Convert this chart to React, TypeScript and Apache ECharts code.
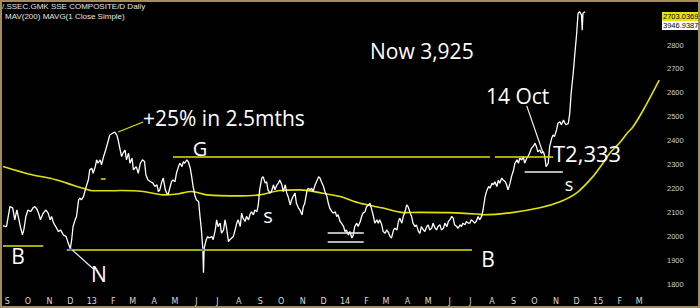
import React, { useEffect, useRef } from "react";
import * as echarts from "echarts";

const START_DATE = "2012-08-26";
const END_DATE = "2015-04-03";

const priceSeries: [string, number][] = [
  ["2012-08-26", 2046], ["2012-08-31", 2043], ["2012-09-05", 2126], ["2012-09-09", 2121], ["2012-09-12", 2071],
  ["2012-09-15", 2112], ["2012-09-17", 2085], ["2012-09-20", 2043], ["2012-09-23", 2008], ["2012-09-25", 2029],
  ["2012-09-28", 2085], ["2012-10-01", 2112], ["2012-10-05", 2105], ["2012-10-08", 2120], ["2012-10-11", 2126],
  ["2012-10-14", 2115], ["2012-10-17", 2092], ["2012-10-19", 2071], ["2012-10-23", 2099], ["2012-10-27", 2112],
  ["2012-10-30", 2099], ["2012-11-02", 2071], ["2012-11-04", 2085], ["2012-11-07", 2057], ["2012-11-10", 2043],
  ["2012-11-14", 2022], ["2012-11-17", 2029], ["2012-11-21", 2008], ["2012-11-25", 2001], ["2012-11-28", 1974],
  ["2012-12-01", 1950], ["2012-12-03", 1988], ["2012-12-05", 2043], ["2012-12-08", 2071], ["2012-12-10", 2085],
  ["2012-12-13", 2154], ["2012-12-15", 2161], ["2012-12-17", 2154], ["2012-12-20", 2168], ["2012-12-22", 2189],
  ["2012-12-24", 2210], ["2012-12-27", 2237], ["2012-12-29", 2279], ["2013-01-01", 2286], ["2013-01-03", 2265],
  ["2013-01-06", 2293], ["2013-01-08", 2321], ["2013-01-10", 2307], ["2013-01-13", 2321], ["2013-01-15", 2300],
  ["2013-01-18", 2335], ["2013-01-21", 2362], ["2013-01-25", 2404], ["2013-01-27", 2425], ["2013-01-31", 2432],
  ["2013-02-03", 2437], ["2013-02-06", 2425], ["2013-02-08", 2404], ["2013-02-11", 2362], ["2013-02-13", 2335],
  ["2013-02-15", 2349], ["2013-02-18", 2362], ["2013-02-20", 2321], ["2013-02-23", 2349], ["2013-02-25", 2307],
  ["2013-02-28", 2328], ["2013-03-02", 2279], ["2013-03-06", 2293], ["2013-03-09", 2265], ["2013-03-12", 2307],
  ["2013-03-15", 2321], ["2013-03-18", 2314], ["2013-03-20", 2258], ["2013-03-23", 2237], ["2013-03-27", 2230],
  ["2013-03-30", 2224], ["2013-04-02", 2210], ["2013-04-05", 2217], ["2013-04-07", 2189], ["2013-04-09", 2196],
  ["2013-04-12", 2230], ["2013-04-14", 2245], ["2013-04-17", 2196], ["2013-04-19", 2182], ["2013-04-21", 2175],
  ["2013-04-24", 2210], ["2013-04-26", 2230], ["2013-04-28", 2237], ["2013-05-01", 2230], ["2013-05-03", 2265],
  ["2013-05-06", 2293], ["2013-05-08", 2307], ["2013-05-11", 2293], ["2013-05-13", 2314], ["2013-05-15", 2307],
  ["2013-05-18", 2321], ["2013-05-20", 2314], ["2013-05-23", 2286], ["2013-05-25", 2251], ["2013-05-27", 2210],
  ["2013-05-30", 2168], ["2013-06-01", 2154], ["2013-06-04", 2147], ["2013-06-06", 2085], ["2013-06-08", 2029],
  ["2013-06-10", 1953], ["2013-06-11", 1850], ["2013-06-12", 1953], ["2013-06-15", 1988], ["2013-06-17", 2001],
  ["2013-06-19", 1995], ["2013-06-23", 2001], ["2013-06-25", 1988], ["2013-06-28", 2029], ["2013-06-30", 2071],
  ["2013-07-02", 2043], ["2013-07-05", 2057], ["2013-07-07", 2015], ["2013-07-10", 2029], ["2013-07-12", 2071],
  ["2013-07-14", 2043], ["2013-07-17", 1980], ["2013-07-19", 1988], ["2013-07-24", 2001], ["2013-07-26", 2022],
  ["2013-07-29", 2057], ["2013-07-31", 2071], ["2013-08-03", 2043], ["2013-08-05", 2099], ["2013-08-07", 2078],
  ["2013-08-10", 2064], ["2013-08-12", 2085], ["2013-08-15", 2071], ["2013-08-17", 2092], ["2013-08-19", 2105],
  ["2013-08-22", 2092], ["2013-08-24", 2112], ["2013-08-27", 2105], ["2013-08-29", 2133], ["2013-08-31", 2196],
  ["2013-09-03", 2245], ["2013-09-05", 2251], ["2013-09-08", 2224], ["2013-09-10", 2230], ["2013-09-12", 2196],
  ["2013-09-15", 2182], ["2013-09-17", 2189], ["2013-09-20", 2217], ["2013-09-22", 2196], ["2013-09-25", 2217],
  ["2013-09-27", 2224], ["2013-09-29", 2237], ["2013-10-02", 2217], ["2013-10-04", 2189], ["2013-10-07", 2217],
  ["2013-10-09", 2182], ["2013-10-11", 2168], ["2013-10-14", 2133], ["2013-10-16", 2154], ["2013-10-18", 2168],
  ["2013-10-21", 2182], ["2013-10-23", 2140], ["2013-10-26", 2120], ["2013-10-28", 2112], ["2013-10-31", 2092],
  ["2013-11-02", 2126], ["2013-11-04", 2140], ["2013-11-07", 2189], ["2013-11-09", 2203], ["2013-11-12", 2196],
  ["2013-11-14", 2203], ["2013-11-16", 2189], ["2013-11-19", 2217], ["2013-11-21", 2230], ["2013-11-24", 2251],
  ["2013-11-26", 2245], ["2013-11-28", 2230], ["2013-12-01", 2210], ["2013-12-03", 2189], ["2013-12-06", 2168],
  ["2013-12-08", 2140], ["2013-12-10", 2120], ["2013-12-13", 2105], ["2013-12-15", 2099], ["2013-12-18", 2105],
  ["2013-12-20", 2085], ["2013-12-22", 2092], ["2013-12-25", 2064], ["2013-12-27", 2057], ["2013-12-30", 2043],
  ["2014-01-01", 2022], ["2014-01-03", 2029], ["2014-01-06", 2008], ["2014-01-08", 2022], ["2014-01-11", 1995],
  ["2014-01-13", 2008], ["2014-01-15", 2043], ["2014-01-18", 2057], ["2014-01-20", 2043], ["2014-01-23", 2064],
  ["2014-01-25", 2085], ["2014-01-27", 2099], ["2014-01-30", 2105], ["2014-02-01", 2126], ["2014-02-04", 2133],
  ["2014-02-06", 2140], ["2014-02-08", 2120], ["2014-02-11", 2085], ["2014-02-13", 2057], ["2014-02-16", 2071],
  ["2014-02-18", 2057], ["2014-02-20", 2071], ["2014-02-23", 2050], ["2014-02-25", 2022], ["2014-02-28", 2015],
  ["2014-03-02", 2029], ["2014-03-04", 2022], ["2014-03-07", 2001], ["2014-03-09", 1995], ["2014-03-12", 2029],
  ["2014-03-14", 2036], ["2014-03-17", 2029], ["2014-03-19", 2064], ["2014-03-21", 2078], ["2014-03-24", 2057],
  ["2014-03-26", 2085], ["2014-03-28", 2099], ["2014-03-31", 2133], ["2014-04-02", 2126], ["2014-04-05", 2099],
  ["2014-04-07", 2085], ["2014-04-09", 2057], ["2014-04-12", 2043], ["2014-04-14", 2050], ["2014-04-17", 2022],
  ["2014-04-19", 2015], ["2014-04-21", 2043], ["2014-04-24", 2029], ["2014-04-26", 2022], ["2014-04-29", 2043],
  ["2014-05-01", 2050], ["2014-05-03", 2029], ["2014-05-06", 2036], ["2014-05-08", 2057], ["2014-05-11", 2036],
  ["2014-05-13", 2029], ["2014-05-15", 2043], ["2014-05-18", 2050], ["2014-05-20", 2029], ["2014-05-23", 2036],
  ["2014-05-25", 2057], ["2014-05-28", 2043], ["2014-05-30", 2064], ["2014-06-01", 2071], ["2014-06-04", 2085],
  ["2014-06-06", 2078], ["2014-06-08", 2050], ["2014-06-11", 2043], ["2014-06-13", 2036], ["2014-06-16", 2050],
  ["2014-06-18", 2043], ["2014-06-20", 2057], ["2014-06-23", 2050], ["2014-06-25", 2064], ["2014-06-28", 2057],
  ["2014-06-30", 2057], ["2014-07-02", 2071], ["2014-07-05", 2064], ["2014-07-07", 2057], ["2014-07-09", 2064],
  ["2014-07-12", 2085], ["2014-07-14", 2071], ["2014-07-17", 2085], ["2014-07-19", 2112], ["2014-07-22", 2168],
  ["2014-07-24", 2189], ["2014-07-27", 2210], ["2014-07-29", 2203], ["2014-08-01", 2224], ["2014-08-03", 2217],
  ["2014-08-05", 2230], ["2014-08-08", 2210], ["2014-08-10", 2237], ["2014-08-12", 2224], ["2014-08-15", 2245],
  ["2014-08-17", 2237], ["2014-08-20", 2230], ["2014-08-22", 2217], ["2014-08-24", 2196], ["2014-08-27", 2224],
  ["2014-08-29", 2251], ["2014-09-01", 2279], ["2014-09-03", 2307], ["2014-09-06", 2321], ["2014-09-08", 2307],
  ["2014-09-10", 2328], ["2014-09-13", 2321], ["2014-09-15", 2335], ["2014-09-17", 2307], ["2014-09-20", 2328],
  ["2014-09-22", 2335], ["2014-09-24", 2349], ["2014-09-27", 2370], ["2014-09-29", 2376], ["2014-10-02", 2390],
  ["2014-10-04", 2376], ["2014-10-06", 2355], ["2014-10-09", 2362], ["2014-10-11", 2349], ["2014-10-14", 2355],
  ["2014-10-16", 2335], ["2014-10-18", 2293], ["2014-10-21", 2307], ["2014-10-23", 2376], ["2014-10-26", 2411],
  ["2014-10-28", 2425], ["2014-10-30", 2418], ["2014-11-02", 2446], ["2014-11-04", 2474], ["2014-11-07", 2480],
  ["2014-11-09", 2467], ["2014-11-12", 2487], ["2014-11-14", 2474], ["2014-11-16", 2467], ["2014-11-19", 2474],
  ["2014-11-21", 2515], ["2014-11-23", 2599], ["2014-11-26", 2682], ["2014-11-28", 2751], ["2014-12-01", 2849],
  ["2014-12-03", 2932], ["2014-12-05", 2939], ["2014-12-08", 2925], ["2014-12-09", 2862], ["2014-12-10", 2932],
  ["2014-12-13", 2939],
];

const maSeries: [string, number][] = [
  ["2012-08-26", 2293], ["2012-09-20", 2272], ["2012-10-08", 2258], ["2012-11-02", 2244], ["2012-11-26", 2224],
  ["2012-12-19", 2203], ["2013-01-03", 2192], ["2013-01-27", 2192], ["2013-02-11", 2193], ["2013-03-16", 2189],
  ["2013-04-14", 2175], ["2013-05-04", 2179], ["2013-05-25", 2189], ["2013-06-16", 2175], ["2013-08-03", 2171],
  ["2013-08-31", 2175], ["2013-09-29", 2193], ["2013-10-28", 2196], ["2013-11-30", 2182], ["2013-12-25", 2168],
  ["2014-01-23", 2140], ["2014-02-25", 2120], ["2014-03-26", 2101], ["2014-04-19", 2102], ["2014-06-01", 2101],
  ["2014-07-10", 2095], ["2014-07-19", 2092], ["2014-08-27", 2100], ["2014-10-09", 2121], ["2014-11-07", 2146],
  ["2014-12-01", 2183], ["2014-12-24", 2250], ["2015-01-08", 2308], ["2015-01-18", 2350], ["2015-02-01", 2392],
  ["2015-02-12", 2433], ["2015-02-20", 2458], ["2015-03-07", 2529], ["2015-03-30", 2654],
];

const yTickValues = [1800, 1900, 2000, 2100, 2200, 2300, 2400, 2500, 2600, 2700, 2800];
const monthLetters = ["J", "F", "M", "A", "M", "J", "J", "A", "S", "O", "N", "D"];

// horizontal annotation lines: [from, to, level, colour]
const YELLOW = "#e2e200";
const WHITE = "#f2f2f2";
const levelLines: [string, string, number, string][] = [
  ["2012-08-26", "2012-10-23", 1962, YELLOW],
  ["2012-11-26", "2014-07-03", 1946, YELLOW],
  ["2013-04-28", "2014-07-29", 2333, YELLOW],
  ["2014-08-05", "2014-10-28", 2333, YELLOW],
  ["2013-01-14", "2013-01-21", 2242, YELLOW],
  ["2013-12-07", "2014-01-28", 2017, WHITE],
  ["2013-12-07", "2014-01-28", 1979, WHITE],
  ["2014-09-17", "2014-11-11", 2271, WHITE],
];
// pointer lines: [fromDate, fromValue, toDate, toValue, colour]
const pointerLines: [string, number, string, number, string][] = [
  ["2012-12-02", 1950, "2013-01-03", 1867, WHITE],
  ["2013-02-08", 2437, "2013-03-16", 2479, YELLOW],
  ["2014-09-20", 2546, "2014-10-13", 2354, WHITE],
];
const touchPoints: [string, number][] = [
  ["2012-12-02", 1946],
  ["2013-06-10", 1946],
];

function buildDays(start: string, end: string): string[] {
  const out: string[] = [];
  let t = Date.parse(start + "T00:00:00Z");
  const e = Date.parse(end + "T00:00:00Z");
  while (t <= e) {
    out.push(new Date(t).toISOString().slice(0, 10));
    t += 86400000;
  }
  return out;
}

export default function App() {
  const ref = useRef<HTMLDivElement>(null);

  useEffect(() => {
    if (!ref.current) return;
    const chart = echarts.init(ref.current, undefined, { renderer: "svg" });
    const days = buildDays(START_DATE, END_DATE);
    const idx = new Map<string, number>();
    days.forEach((d, i) => idx.set(d, i));
    const ix = (d: string) => idx.get(d) as number;

    const markData: any[] = [];
    levelLines.forEach(([a, b, v, c]) => {
      markData.push([
        { coord: [ix(a), v], lineStyle: { color: c, width: 1.5, type: "solid" } },
        { coord: [ix(b), v] },
      ]);
    });
    pointerLines.forEach(([a, va, b, vb, c]) => {
      markData.push([
        { coord: [ix(a), va], lineStyle: { color: c, width: 1.2, type: "solid" } },
        { coord: [ix(b), vb] },
      ]);
    });

    const textEl = (text: string, x: number, y: number, size: number, align = "center") => ({
      type: "text",
      x,
      y,
      silent: true,
      z: 100,
      style: {
        text,
        fill: "#ffffff",
        fontSize: size,
        lineHeight: size,
        fontFamily: '"Open Sans", sans-serif',
        align,
        verticalAlign: "middle",
      },
    });

    chart.setOption({
      animation: false,
      backgroundColor: "#000000",
      grid: { left: 3, right: 38, top: 10, bottom: 16, containLabel: false },
      xAxis: {
        type: "category",
        data: days,
        boundaryGap: false,
        axisLine: { show: false },
        axisTick: { show: false },
        splitLine: { show: false },
        axisLabel: {
          interval: (i: number, v: string) => v.slice(8, 10) === "01" && i < days.length - 10,
          formatter: (v: string) => {
            const m = Number(v.slice(5, 7));
            return m === 1 ? v.slice(2, 4) : monthLetters[m - 1];
          },
          color: "#d8d8d8",
          fontSize: 8,
          fontFamily: '"DejaVu Sans", sans-serif',
          margin: 5,
        },
      },
      yAxis: {
        type: "value",
        position: "right",
        min: 1770,
        max: 2946,
        axisLine: { show: false },
        axisTick: { show: false },
        splitLine: { show: false },
        axisLabel: {
          customValues: yTickValues,
          formatter: (v: number) => String(v),
          color: "#d0d0d0",
          fontSize: 7.5,
          fontFamily: '"Liberation Sans", sans-serif',
          margin: 5,
        },
      },
      series: [
        {
          name: "MAV(200)",
          type: "line",
          data: maSeries.map(([d, v]) => [ix(d), v]),
          showSymbol: false,
          smooth: 0.3,
          lineStyle: { color: YELLOW, width: 1.6 },
          z: 2,
          silent: true,
        },
        {
          name: "SSE Composite",
          type: "line",
          data: priceSeries.map(([d, v]) => [ix(d), v]),
          showSymbol: false,
          lineStyle: { color: "#ffffff", width: 1.3 },
          z: 3,
          silent: true,
          markLine: {
            silent: true,
            symbol: ["none", "none"],
            label: { show: false },
            emphasis: { disabled: true },
            data: markData,
          },
        },
        {
          name: "touch",
          type: "scatter",
          data: touchPoints.map(([d, v]) => [ix(d), v]),
          symbolSize: 3,
          itemStyle: { color: "#3a4cff" },
          z: 5,
          silent: true,
        },
      ],
      graphic: [
        {
          type: "text",
          x: 2,
          y: 2,
          silent: true,
          style: { text: "/.SSEC.GMK SSE COMPOSITE/D Daily", fill: "#e6e6e6", fontSize: 8, fontFamily: '"Liberation Sans", sans-serif' },
        },
        {
          type: "text",
          x: 5,
          y: 12,
          silent: true,
          style: { text: "MAV(200) MAVG(1 Close Simple)", fill: "#e6e6e6", fontSize: 8, fontFamily: '"Liberation Sans", sans-serif' },
        },
        { type: "rect", silent: true, z: 90, shape: { x: 662, y: 12, width: 37, height: 9 }, style: { fill: "#e6e600" } },
        { type: "rect", silent: true, z: 90, shape: { x: 662, y: 21, width: 37, height: 9 }, style: { fill: "#ffffff" } },
        {
          type: "text", x: 663, y: 16.5, silent: true, z: 91,
          style: { text: "2703.0369", fill: "#000", fontSize: 7.5, fontFamily: '"Liberation Sans", sans-serif', verticalAlign: "middle" },
        },
        {
          type: "text", x: 663, y: 25.5, silent: true, z: 91,
          style: { text: "3946.9387", fill: "#000", fontSize: 7.5, fontFamily: '"Liberation Sans", sans-serif', verticalAlign: "middle" },
        },
        textEl("B", 18, 256, 21),
        textEl("N", 99, 274, 21),
        textEl("+25% in 2.5mths", 143, 118, 21, "left"),
        textEl("G", 200, 148, 20),
        textEl("s", 268, 215, 20),
        textEl("Now 3,925", 370, 51, 21, "left"),
        textEl("14 Oct", 486, 96, 21, "left"),
        textEl("T2,333", 553, 153, 22, "left"),
        textEl("s", 569, 184, 18),
        textEl("B", 488, 259, 21),
        {
          type: "rect",
          silent: true,
          z: 200,
          shape: { x: 1, y: 1, width: 698, height: 306 },
          style: { fill: "none", stroke: "#a48c5c", lineWidth: 2 },
        },
      ],
    });
    return () => chart.dispose();
  }, []);

  return (
    <div
      ref={ref}
      style={{ position: "fixed", left: 0, top: 0, width: 700, height: 308, background: "#000" }}
    />
  );
}
